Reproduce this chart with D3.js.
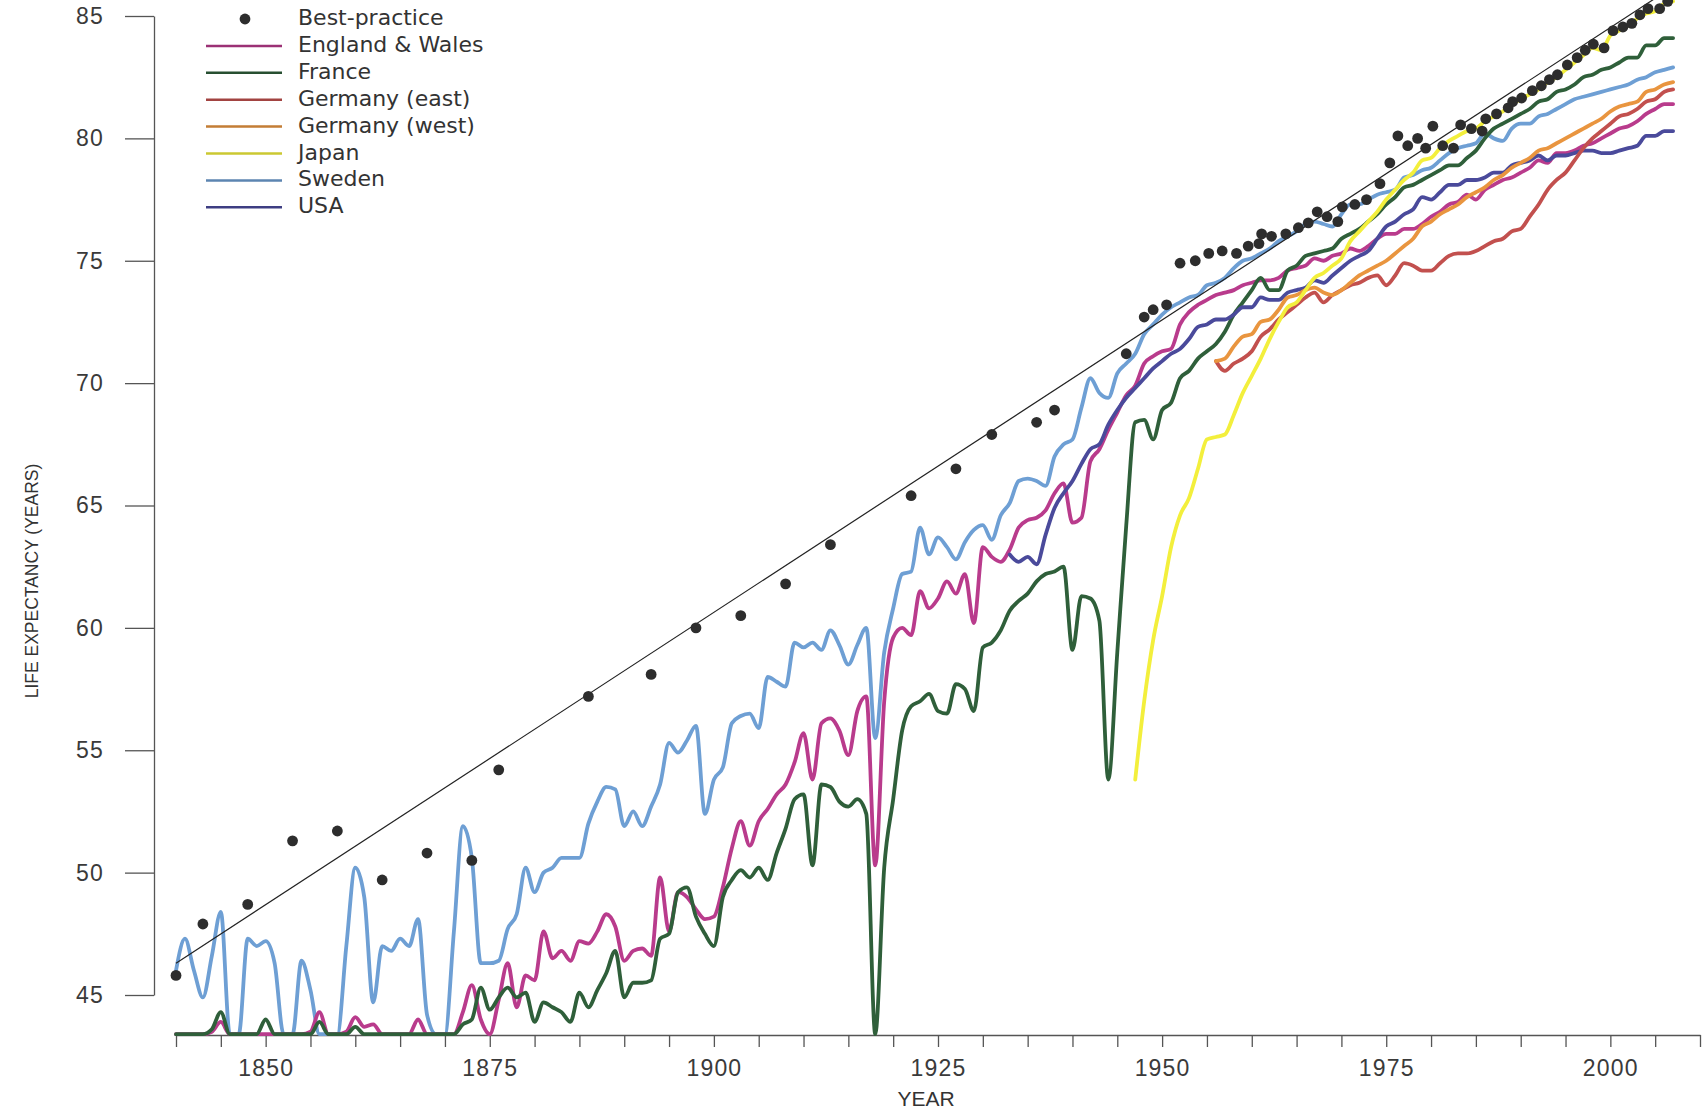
<!DOCTYPE html>
<html>
<head>
<meta charset="utf-8">
<title>Female life expectancy, best-practice and selected countries</title>
<script src="https://cdn.jsdelivr.net/npm/d3@7"></script>
<style>
  html, body { margin: 0; padding: 0; background: #fff; }
  svg { display: block; }
</style>
</head>
<body>
<svg id="chart" width="1704" height="1112"></svg>
<script>
// values; 43.4 = line sitting on the x axis
const swedenStart = 1840;
const swedenValues = [
  46.0, 47.3, 46.0, 44.9, 46.6, 48.4, 43.4, 43.4, 47.3, 47.0,
  47.2, 46.3, 43.4, 43.4, 46.4, 45.2, 43.4, 43.4, 43.4, 47.0,
  50.2, 49.0, 44.7, 47.0, 46.8, 47.3, 47.0, 48.1, 44.2, 43.4,
  43.4, 47.6, 51.9, 50.6, 46.3, 46.3, 46.4, 47.7, 48.3, 50.2,
  49.2, 50.0, 50.2, 50.6, 50.6, 50.6, 52.0, 52.9, 53.5, 53.4,
  51.9, 52.5, 51.9, 52.7, 53.6, 55.3, 54.9, 55.4, 56.0, 52.4,
  53.8, 54.3, 56.1, 56.4, 56.5, 55.9, 58.0, 57.8, 57.6, 59.4,
  59.2, 59.4, 59.1, 59.9, 59.3, 58.5, 59.3, 60.0, 55.5, 59.0,
  60.8, 62.2, 62.3, 64.1, 63.0, 63.7, 63.3, 62.8, 63.5, 64.0,
  64.2, 63.6, 64.6, 65.1, 66.0, 66.1, 66.0, 65.8, 67.0, 67.5,
  67.7, 69.0, 70.2, 69.6, 69.4, 70.4, 70.8, 71.2, 72.0, 72.4,
  72.8, 73.1, 73.3, 73.5, 73.6, 74.0, 74.1, 74.3, 74.7, 75.0,
  75.1, 75.3, 75.5, 75.8, 76.0, 76.2, 76.5, 76.6, 76.5, 76.4,
  76.9, 77.3, 77.3, 77.5, 77.7, 77.8, 77.9, 78.4, 78.5, 78.7,
  78.8, 79.1, 79.4, 79.6, 79.7, 79.8, 80.2, 80.0, 79.9, 80.4,
  80.6, 80.6, 80.9, 81.0, 81.2, 81.4, 81.6, 81.7, 81.8, 81.9,
  82.0, 82.1, 82.2, 82.4, 82.5, 82.7, 82.8, 82.9
];

const englandStart = 1840;
const englandValues = [
  43.4, 43.4, 43.4, 43.4, 43.5, 43.9, 43.4, 43.4, 43.4, 43.4,
  43.4, 43.4, 43.4, 43.4, 43.4, 43.5, 44.3, 43.4, 43.4, 43.5,
  44.1, 43.7, 43.8, 43.4, 43.4, 43.4, 43.4, 44.0, 43.4, 43.4,
  43.4, 43.4, 44.3, 45.4, 44.0, 43.4, 44.8, 46.3, 44.5, 45.8,
  45.6, 47.6, 46.5, 46.8, 46.4, 47.2, 47.1, 47.6, 48.3, 47.8,
  46.4, 46.8, 46.9, 46.6, 49.8, 47.6, 49.2, 49.0, 48.5, 48.1,
  48.2, 49.4, 51.0, 52.1, 51.1, 52.1, 52.6, 53.2, 53.6, 54.5,
  55.7, 53.8, 56.1, 56.3, 55.8, 54.8, 56.6, 57.2, 50.3, 57.0,
  59.6, 60.0, 59.7, 61.5, 60.8, 61.2, 61.9, 61.4, 62.2, 60.2,
  63.3, 62.9, 62.7, 63.2, 64.1, 64.4, 64.5, 64.8, 65.5, 65.9,
  64.3, 64.5, 66.8, 67.3, 68.1, 68.8, 69.5, 69.9, 70.8, 71.1,
  71.3, 71.4, 72.4, 72.9, 73.2, 73.4, 73.6, 73.7, 73.8, 74.0,
  74.1, 74.2, 74.2, 74.3, 74.6, 74.7, 74.8, 75.1, 75.0, 75.2,
  75.3, 75.5, 75.4, 75.6, 75.9, 76.1, 76.1, 76.3, 76.3, 76.5,
  76.8, 77.0, 77.3, 77.4, 77.7, 77.5, 77.9, 78.1, 78.3, 78.4,
  78.6, 78.8, 79.1, 79.0, 79.4, 79.4, 79.5, 79.7, 79.8, 80.0,
  80.2, 80.4, 80.5, 80.7, 81.0, 81.2, 81.4, 81.4
];

const franceStart = 1840;
const franceValues = [
  43.4, 43.4, 43.4, 43.4, 43.6, 44.3, 43.4, 43.4, 43.4, 43.4,
  44.0, 43.4, 43.4, 43.4, 43.4, 43.4, 43.9, 43.4, 43.4, 43.4,
  43.7, 43.4, 43.4, 43.4, 43.4, 43.4, 43.4, 43.4, 43.4, 43.4,
  43.4, 43.4, 43.8, 44.0, 45.3, 44.4, 44.9, 45.3, 44.9, 45.1,
  43.9, 44.7, 44.5, 44.3, 43.9, 45.1, 44.5, 45.2, 45.9, 46.8,
  44.9, 45.5, 45.5, 45.6, 47.3, 47.5, 49.2, 49.4, 48.2, 47.5,
  47.0, 49.0, 49.7, 50.1, 49.8, 50.2, 49.7, 50.8, 51.8, 53.0,
  53.2, 50.3, 53.6, 53.5, 52.9, 52.7, 53.0, 52.4, 43.4, 50.2,
  53.0, 55.8, 56.8, 57.0, 57.3, 56.6, 56.5, 57.7, 57.5, 56.6,
  59.2, 59.4, 59.9, 60.7, 61.1, 61.4, 61.9, 62.2, 62.3, 62.5,
  59.1, 61.3, 61.2, 60.3, 53.8, 59.0, 64.2, 68.4, 68.5, 67.7,
  68.9, 69.2, 70.2, 70.5, 71.0, 71.3, 71.6, 72.1, 72.8, 73.3,
  73.8, 74.3, 73.8, 73.8, 74.6, 74.8, 75.2, 75.3, 75.4, 75.5,
  75.9, 76.1, 76.3, 76.6, 76.9, 77.3, 77.6, 78.0, 78.1, 78.3,
  78.5, 78.7, 78.9, 78.9, 79.2, 79.5, 80.0, 80.4, 80.6, 80.8,
  81.0, 81.2, 81.5, 81.6, 81.9, 82.0, 82.2, 82.5, 82.6, 82.8,
  82.9, 83.1, 83.3, 83.3, 83.8, 83.8, 84.1, 84.1
];

const usaStart = 1933;
const usaValues = [
  63.0, 62.7, 62.9, 62.6, 63.8, 64.9, 65.5,
  66.0, 66.7, 67.3, 67.5, 68.3, 68.9, 69.4, 69.8, 70.2, 70.6,
  70.9, 71.2, 71.4, 71.8, 72.3, 72.4, 72.6, 72.6, 72.8, 73.1,
  73.1, 73.5, 73.4, 73.4, 73.7, 73.8, 73.9, 74.2, 74.1, 74.4,
  74.7, 75.0, 75.2, 75.4, 75.9, 76.4, 76.6, 76.9, 77.1, 77.6,
  77.5, 77.8, 78.1, 78.1, 78.3, 78.3, 78.4, 78.6, 78.6, 78.9,
  79.0, 79.1, 79.3, 79.1, 79.3, 79.3, 79.4, 79.5, 79.5, 79.4,
  79.4, 79.5, 79.6, 79.7, 80.1, 80.1, 80.3, 80.3
];

const germanyEastStart = 1956;
const germanyEastValues = [
  70.9, 70.5, 70.8, 71.0,
  71.3, 71.9, 72.2, 72.6, 72.9, 73.2, 73.5, 73.7, 73.3, 73.6,
  73.8, 74.0, 74.1, 74.3, 74.4, 74.0, 74.4, 74.9, 74.8, 74.6,
  74.6, 74.9, 75.2, 75.3, 75.3, 75.4, 75.6, 75.8, 75.9, 76.2,
  76.3, 76.8, 77.3, 77.9, 78.3, 78.6, 79.1, 79.6, 80.0, 80.3,
  80.6, 80.9, 81.0, 81.2, 81.5, 81.6, 81.9, 82.0
];

const germanyWestStart = 1956;
const germanyWestValues = [
  70.9, 71.0, 71.5, 71.9,
  72.0, 72.5, 72.6, 73.0, 73.5, 73.6, 73.8, 73.9, 73.7, 73.6,
  73.8, 74.1, 74.4, 74.6, 74.8, 75.0, 75.3, 75.6, 75.9, 76.4,
  76.6, 76.9, 77.1, 77.3, 77.6, 77.8, 78.0, 78.3, 78.5, 78.8,
  79.0, 79.2, 79.5, 79.6, 79.8, 80.0, 80.2, 80.4, 80.6, 80.8,
  81.1, 81.3, 81.4, 81.5, 81.9, 82.0, 82.2, 82.3
];

const japanStart = 1947;
const japanValues = [
  53.8, 57.0, 59.5,
  61.3, 63.3, 64.6, 65.3, 66.5, 67.7, 67.8, 67.9, 68.7, 69.6,
  70.3, 71.0, 71.8, 72.5, 73.1, 73.3, 73.8, 74.3, 74.5, 74.8,
  75.1, 75.8, 76.2, 76.6, 77.0, 77.5, 77.9, 78.3, 78.6, 79.1,
  79.2, 79.6, 79.9, 80.1, 80.3, 80.4, 80.7, 80.9, 81.1, 81.4,
  81.6, 81.8, 82.0, 82.3, 82.5, 82.8, 83.1, 83.4, 83.7, 83.6,
  84.2, 84.4, 84.6, 84.9, 85.1, 85.2, 85.5, 85.6
];

const bestYears = [
  1840, 1843, 1848, 1853, 1858, 1863, 1868, 1873, 1876, 1886,
  1893, 1898, 1903, 1908, 1913, 1922, 1927, 1931, 1936, 1938,
  1946, 1948, 1949, 1950.5, 1952, 1953.7, 1955.2, 1956.7, 1958.3, 1959.6,
  1960.8, 1961.1, 1962.2, 1963.8, 1965.2, 1966.3, 1967.3, 1968.4, 1969.6, 1970.1,
  1971.5, 1972.8, 1974.3, 1975.4, 1976.3, 1977.4, 1978.5, 1979.4, 1980.2, 1981.3,
  1982.5, 1983.3, 1984.5, 1985.7, 1986.1, 1987.3, 1988.6, 1989.1, 1990.1, 1991.3,
  1992.3, 1993.2, 1994.1, 1995.2, 1996.3, 1997.2, 1998.1, 1999.3, 2000.3, 2001.4,
  2002.4, 2003.3, 2004.2, 2005.5, 2006.4
];
const bestValues = [
  45.8, 47.9, 48.7, 51.3, 51.7, 49.7, 50.8, 50.5, 54.2, 57.2,
  58.1, 60.0, 60.5, 61.8, 63.4, 65.4, 66.5, 67.9, 68.4, 68.9,
  71.2, 72.7, 73.0, 73.2, 74.9, 75.0, 75.3, 75.4, 75.3, 75.6,
  75.7, 76.1, 76.0, 76.1, 76.35, 76.55, 77.0, 76.8, 76.6, 77.2,
  77.3, 77.5, 78.15, 79.0, 80.1, 79.7, 80.0, 79.6, 80.5, 79.7,
  79.6, 80.55, 80.4, 80.3, 80.8, 81.0, 81.25, 81.5, 81.65, 81.95,
  82.15, 82.4, 82.6, 83.0, 83.3, 83.6, 83.85, 83.7, 84.4, 84.55,
  84.7, 85.05, 85.3, 85.3, 85.6
];

// linear fit through the best-practice record
const trendLine = [[1840, 46.3], [2007, 86.2]];

const countryNames = ['England & Wales', 'France', 'Germany (east)', 'Germany (west)', 'Japan', 'Sweden', 'USA'];
const countryColors = ['#b93b8c', '#2f5f3a', '#c2504e', '#e9953f', '#f3ef3c', '#6e9fd4', '#4a4a9b'];

const yTicks = [45, 50, 55, 60, 65, 70, 75, 80, 85];
const xTicks = d3.range(1840, 2011, 5);

const toPoints = (start, values) => values.map((v, i) => [start + i, v]);

const series = [
  { name: 'Sweden', points: toPoints(swedenStart, swedenValues) },
  { name: 'England & Wales', points: toPoints(englandStart, englandValues) },
  { name: 'France', points: toPoints(franceStart, franceValues) },
  { name: 'USA', points: toPoints(usaStart, usaValues) },
  { name: 'Germany (east)', points: toPoints(germanyEastStart, germanyEastValues) },
  { name: 'Germany (west)', points: toPoints(germanyWestStart, germanyWestValues) },
  { name: 'Japan', points: toPoints(japanStart, japanValues) }
];

const color = d3.scaleOrdinal().domain(countryNames).range(countryColors);

const svg = d3.select('#chart');

const x = d3.scaleLinear().domain([1840, 2010]).range([176, 1700]);
const y = d3.scaleLinear().domain([45, 85]).range([995, 16]);
const axisY = 1035;

// axes
const yAxis = svg.append('g')
  .attr('transform', 'translate(154,0)')
  .call(d3.axisLeft(y).tickValues(yTicks).tickSize(29).tickSizeOuter(0).tickPadding(21));

const xAxis = svg.append('g')
  .attr('transform', `translate(0,${axisY})`)
  .call(d3.axisBottom(x).tickValues(xTicks).tickSize(12).tickSizeOuter(0).tickPadding(13)
    .tickFormat(d => (d % 25 === 0 ? d : '')));

[yAxis, xAxis].forEach((g) => {
  g.selectAll('path, line').attr('stroke', '#555').attr('stroke-width', 1.3);
  g.selectAll('text')
    .attr('fill', '#3a3a3a')
    .style('font-family', '"Liberation Sans", Arial, sans-serif')
    .style('font-size', '23px')
    .style('letter-spacing', '1.2px');
});

svg.append('text')
  .attr('transform', 'translate(33,581) rotate(-90)')
  .attr('text-anchor', 'middle')
  .attr('dominant-baseline', 'middle')
  .attr('fill', '#333')
  .style('font-family', '"Liberation Sans Narrow", "Liberation Sans", sans-serif')
  .style('font-size', '17.5px')
  .text('LIFE EXPECTANCY (YEARS)');

svg.append('text')
  .attr('x', 926)
  .attr('y', 1100)
  .attr('text-anchor', 'middle')
  .attr('dominant-baseline', 'middle')
  .attr('fill', '#333')
  .style('font-family', '"Liberation Sans", Arial, sans-serif')
  .style('font-size', '21px')
  .text('YEAR');

// country lines
const line = d3.line()
  .x(d => x(d[0]))
  .y(d => y(d[1]))
  .curve(d3.curveMonotoneX);

svg.append('g')
  .selectAll('path')
  .data(series)
  .enter()
  .append('path')
  .attr('d', d => line(d.points))
  .attr('fill', 'none')
  .attr('stroke', d => color(d.name))
  .attr('stroke-width', 3.8)
  .attr('stroke-linejoin', 'round')
  .attr('stroke-linecap', 'round');

// trend line and best-practice record
svg.append('path')
  .attr('d', d3.line().x(d => x(d[0])).y(d => y(d[1]))(trendLine))
  .attr('fill', 'none')
  .attr('stroke', '#222')
  .attr('stroke-width', 1.2);

svg.append('g')
  .selectAll('circle')
  .data(bestYears.map((yr, i) => [yr, bestValues[i]]))
  .enter()
  .append('circle')
  .attr('cx', d => x(d[0]))
  .attr('cy', d => y(d[1]))
  .attr('r', 5.4)
  .attr('fill', '#2d2d2d');

// legend
const legend = svg.append('g').attr('class', 'legend');
const rowY = i => 19 + i * 26.9;
const legendFont = '"DejaVu Sans", Verdana, sans-serif';

legend.append('circle')
  .attr('cx', 245)
  .attr('cy', rowY(0))
  .attr('r', 5.4)
  .attr('fill', '#2d2d2d');

legend.append('text')
  .attr('x', 298)
  .attr('y', rowY(0))
  .attr('dominant-baseline', 'middle')
  .attr('fill', '#333')
  .style('font-family', legendFont)
  .style('font-size', '22px')
  .text('Best-practice');

countryNames.forEach((name, i) => {
  legend.append('line')
    .attr('x1', 206).attr('x2', 282)
    .attr('y1', rowY(i + 1)).attr('y2', rowY(i + 1))
    .attr('stroke', d3.color(color(name)).darker(0.5))
    .attr('stroke-width', 2.5);
  legend.append('text')
    .attr('x', 298)
    .attr('y', rowY(i + 1))
    .attr('dominant-baseline', 'middle')
    .attr('fill', '#333')
    .style('font-family', legendFont)
    .style('font-size', '22px')
    .text(name);
});
</script>
</body>
</html>
